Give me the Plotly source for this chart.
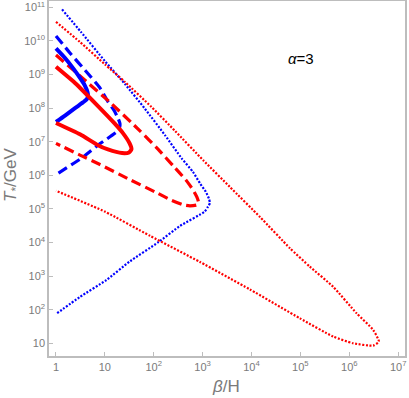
import plotly.graph_objects as go

# ---- data (beta/H, T*/GeV) ----
b_dot_beta = [1.33, 3.24, 10.05, 25.8, 65.2, 169, 372, 634, 881, 1167, 1346, 1409, 1282, 1099, 344, 122, 32.6, 10.7, 3.10, 1.0]
b_dot_T = [8.7e10, 1.86e10, 2.5e9, 5.2e8, 9.8e7, 1.58e7, 3.2e6, 1.26e6, 5.8e5, 3.2e5, 2.0e5, 1.5e5, 1.15e5, 8.3e4, 3.1e4, 1.0e4, 2750, 760, 240, 74]

r_dot_beta = [1, 3.10, 10.05, 25.8, 88.9, 272, 1028, 3614, 1.49e4, 6.1e4, 1.56e5, 4.69e5, 1.41e6, 3.08e6, 4.03e6, 3.08e6, 1.20e6, 4.69e5, 9.8e4, 9270, 881, 83.6, 10, 1]
r_dot_T = [3.7e10, 9.3e9, 2.0e9, 6.0e8, 1.1e8, 2.1e7, 2.8e6, 4.5e5, 5.75e4, 6760, 1905, 479, 78, 25, 11.2, 8.5, 10, 15.8, 55, 400, 2630, 1.58e4, 8.3e4, 3.47e5]

b_dash_beta = [1, 1.93, 3.92, 7.94, 11.56, 15.3, 18.5, 20.4, 19.9, 18.5, 7.23, 3.29, 1]
b_dash_T = [1.41e10, 4.4e9, 1.35e9, 4.0e8, 1.55e8, 8.7e7, 5.1e7, 3.4e7, 2.6e7, 2.1e7, 7.9e6, 3.2e6, 1.05e6]

r_dash_beta = [1, 3.10, 13.5, 52.2, 122, 251, 455, 643, 764, 820, 764, 550, 401, 214, 122, 32.6, 7.94, 3.10, 1]
r_dash_T = [3.8e9, 9.1e8, 1.38e8, 2.1e7, 6.0e6, 1.9e6, 7.2e5, 3.6e5, 2.24e5, 1.62e5, 1.32e5, 1.23e5, 1.32e5, 1.9e5, 2.9e5, 7.4e5, 2.1e6, 4.0e6, 8.9e6]

b_sol_beta = [1, 1.53, 2.23, 3.10, 3.92, 4.41, 4.51, 4.21, 3.56, 2.45, 1.53, 1]
b_sol_T = [6.0e9, 3.1e9, 1.55e9, 7.9e8, 4.6e8, 3.0e8, 2.3e8, 1.8e8, 1.48e8, 1.0e8, 6.0e7, 3.9e7]

r_sol_beta = [1, 2.45, 7.23, 15.8, 23.4, 32.1, 35.0, 31.1, 22.4, 11.56, 7.23, 3.10, 1]
r_sol_T = [1.7e9, 5.6e8, 1.15e8, 3.5e7, 1.8e7, 8.9e6, 6.0e6, 4.8e6, 4.6e6, 5.9e6, 7.9e6, 1.66e7, 3.6e7]

x_tickvals = [1, 10, 1e2, 1e3, 1e4, 1e5, 1e6, 1e7]
x_ticktext = ["1", "10", "10<sup>2</sup>", "10<sup>3</sup>", "10<sup>4</sup>", "10<sup>5</sup>", "10<sup>6</sup>", "10<sup>7</sup>"]
y_tickvals = [10, 1e2, 1e3, 1e4, 1e5, 1e6, 1e7, 1e8, 1e9, 1e10, 1e11]
y_ticktext = ["10"] + ["10<sup>%d</sup>" % k for k in range(2, 12)]

BLUE = "rgb(0,0,255)"
RED = "rgb(255,0,0)"
FONT = "Liberation Sans, Arial"
GRAY = "#7a7a7a"

fig = go.Figure()

def add(xs, ys, color, width, dash):
    fig.add_trace(go.Scatter(x=xs, y=ys, mode="lines",
                             line=dict(color=color, width=width, dash=dash, shape="spline", smoothing=0.5),
                             showlegend=False, hoverinfo="skip"))

add(b_dot_beta, b_dot_T, BLUE, 2.2, "2px,1.6px")
add(r_dot_beta, r_dot_T, RED, 2.2, "2px,1.6px")
add(b_dash_beta, b_dash_T, BLUE, 3.2, "10px,5px")
add(r_dash_beta, r_dash_T, RED, 3.2, "10px,5px")
add(b_sol_beta, b_sol_T, BLUE, 4, "solid")
add(r_sol_beta, r_sol_T, RED, 4, "solid")

axis_common = dict(showgrid=False, zeroline=False, showline=True, linecolor="#bdbdbd",
                   linewidth=1.5, mirror=True, ticks="inside", ticklen=4, tickcolor="#bdbdbd",
                   automargin=False, ticklabeloverflow="allow",
                   tickfont=dict(family=FONT, size=11, color=GRAY))

fig.update_xaxes(type="log", range=[-0.143, 7.14], tickvals=x_tickvals, ticktext=x_ticktext,
                 **axis_common)
fig.update_yaxes(type="log", range=[0.62, 11.19], tickvals=y_tickvals, ticktext=y_ticktext,
                 **axis_common)

fig.add_annotation(x=0.708, y=0.839, xref="paper", yref="paper", text="<i>α</i>=3",
                   xanchor="center", yanchor="middle",
                   showarrow=False, font=dict(family=FONT, size=15, color="black"))
fig.add_annotation(x=0.497, y=-0.087, xref="paper", yref="paper", text="<i>β</i>/H",
                   xanchor="center", yanchor="middle",
                   showarrow=False, font=dict(family=FONT, size=17, color=GRAY))
fig.add_annotation(x=-0.104, y=0.51, xref="paper", yref="paper", text="<i>T</i><sub>*</sub>/GeV",
                   xanchor="center", yanchor="middle",
                   showarrow=False, textangle=-90, font=dict(family=FONT, size=17, color=GRAY))

fig.update_layout(width=409, height=398, margin=dict(l=49, r=4, t=1, b=42),
                  paper_bgcolor="white", plot_bgcolor="white")

fig.write_html("out.html", config={"displayModeBar": False},
               post_script="document.body.style.margin='0';document.body.style.overflow='hidden';")
